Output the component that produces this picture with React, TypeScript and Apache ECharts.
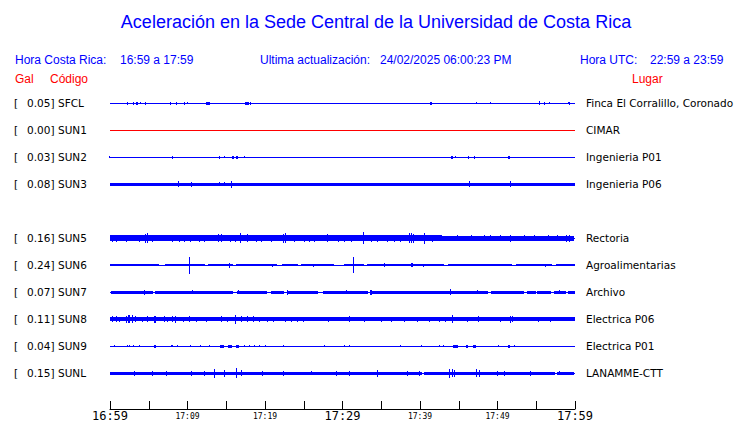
import React, { useEffect, useRef } from "react";
import * as echarts from "echarts";

// ---------- DATA ----------
const stationCodes = ["SFCL", "SUN1", "SUN2", "SUN3", "", "SUN5", "SUN6", "SUN7", "SUN8", "SUN9", "SUNL"];
const peakGal = ["0.05", "0.00", "0.03", "0.08", "", "0.16", "0.24", "0.07", "0.11", "0.04", "0.15"];
const places = [
  "Finca El Corralillo, Coronado", "CIMAR", "Ingenieria P01", "Ingenieria P06", "",
  "Rectoria", "Agroalimentarias", "Archivo", "Electrica P06", "Electrica P01", "LANAMME-CTT",
];
const traceColors = ["#0000ff", "#ff0000", "#0000ff", "#0000ff", "", "#0000ff", "#0000ff", "#0000ff", "#0000ff", "#0000ff", "#0000ff"];

// minutes since 16:59 at which the time labels sit
const timeLabelMinutes = [0, 10, 20, 30, 40, 50, 60];
const timeLabels = ["16:59", "17:09", "17:19", "17:29", "17:39", "17:49", "17:59"];
const bigTimeLabels = ["16:59", "17:29", "17:59"];

const titleText = "Aceleración en la Sede Central de la Universidad de Costa Rica";
const headerTexts = ["Hora Costa Rica:", "16:59 a 17:59", "Ultima actualización:", "24/02/2025 06:00:23 PM", "Hora UTC:", "22:59 a 23:59"];
const columnTexts = ["Gal", "Código", "Lugar"];

// amplitude units: 27 units = spacing between two traces
const ROW_SPAN = 27;

// continuous band of each trace: [startMin, endMin, halfAmplitude]
const bandSFCL: number[][] = [];
const bandSUN1: number[][] = [];
const bandSUN2: number[][] = [];
const bandSUN3 = [[0, 60, 1.6]];
const bandSUN5 = [[0, 42.8, 2.9], [42.8, 60, 2.3]];
const bandSUN6 = [[0.1, 6.45, 1.0], [7.1, 12.26, 1.0], [12.7, 15.9, 1.0], [16.3, 21.6, 1.0], [22.3, 24.3, 1.0], [24.7, 29.0, 1.0], [30.3, 32.9, 1.0], [33.25, 43.2, 1.0], [43.7, 52.0, 1.0], [52.5, 57.2, 1.0], [57.6, 60, 1.0]];
const bandSUN7 = [[0.2, 5.6, 1.3], [5.9, 15.9, 1.3], [16.5, 20.4, 1.3], [20.9, 22.6, 1.3], [22.9, 26.9, 1.3], [27.5, 33.3, 1.3], [33.6, 48.8, 1.3], [49.2, 53.5, 1.3], [53.9, 55.0, 1.3], [55.2, 57.0, 1.3], [57.4, 58.9, 1.3], [59.1, 60, 1.3]];
const bandSUN8 = [[0, 25.2, 2.1], [25.2, 60, 1.8]];
const bandSUN9: number[][] = [];
const bandSUNL = [[0, 40.2, 1.7], [40.6, 57.5, 1.7], [57.8, 60, 1.7]];

// bursts of each trace: [minute, halfAmplitude, durationMin?]
const burstSFCL = [[2.28, 1.4], [3.1, 1.4], [3.53, 1.5, 0.3], [3.96, 1.0], [4.6, 1.4], [7.87, 1.4], [8.65, 1.4], [9.68, 1.4], [10.11, 1.2], [12.73, 1.5, 0.5], [17.68, 1.5, 0.5], [18.15, 1.3], [41.51, 1.5, 0.25], [47.4, 1.2], [49.2, 0.9], [55.48, 2.2], [56.13, 1.3], [56.82, 1.2], [59.18, 1.0], [59.4, 1.3]];
const burstSUN1: number[][] = [];
const burstSUN2 = [[0.05, 1.2], [8.17, 1.3], [14.24, 1.3], [14.88, 0.8], [15.87, 1.5, 0.2], [16.39, 1.5, 0.2], [17.38, 1.2], [44.17, 1.4, 0.3], [44.6, 1.2], [46.37, 1.3], [47.14, 1.3], [51.57, 1.5, 0.2]];
const burstSUN3 = [[8.9, 3.0], [10.6, 2.4], [14.24, 2.0], [14.88, 2.0], [15.8, 3.5], [46.4, 3.0], [51.7, 3.0]];
const burstSUN5 = [[0.4, 3.4], [0.9, 3.5], [2.15, 3.3], [3.87, 3.4], [4.6, 4.6], [4.85, 5.0], [5.6, 3.6], [8.17, 3.6], [9.0, 3.3], [9.7, 3.4], [10.5, 3.3], [11.6, 3.6], [12.3, 3.5], [14.0, 4.0], [14.4, 4.2], [15.6, 3.3], [16.3, 3.5], [16.86, 5.0], [17.85, 3.8], [18.9, 3.4], [19.6, 3.3], [20.9, 3.4], [22.4, 4.5], [22.7, 5.0], [23.9, 3.3], [25.2, 3.4], [25.8, 3.3], [26.5, 3.3], [28.1, 4.0], [29.5, 3.4], [30.3, 3.3], [31.2, 3.6], [32.8, 5.8], [33.8, 3.4], [34.6, 3.3], [35.9, 3.4], [36.8, 3.3], [37.6, 3.6], [38.7, 5.2], [39.0, 5.0], [39.2, 4.5], [40.7, 5.5], [41.7, 3.6], [44.9, 3.2], [46.7, 2.9], [48.4, 2.9], [49.2, 2.8], [50.5, 2.9], [51.8, 3.6], [53.5, 2.8], [54.8, 3.0], [56.6, 2.8], [57.8, 2.8], [59.0, 3.6], [59.4, 3.4]];
const burstSUN6 = [[10.37, 8.3], [15.5, 2.5], [21.0, 1.5], [26.3, 1.6], [31.5, 7.8], [35.5, 2.2], [39.1, 1.8, 0.3], [40.5, 1.6], [56.3, 1.6]];
const burstSUN7 = [[4.5, 2.3], [10.75, 2.2], [16.6, 2.0], [22.9, 2.3], [30.6, 2.2], [33.8, 2.6, 0.3], [43.96, 3.0], [47.5, 2.2], [58.0, 1.8]];
const burstSUN8 = [[0.4, 2.8], [0.9, 3.0], [1.3, 2.7], [2.2, 3.5], [2.6, 4.0, 0.3], [3.0, 3.8], [3.3, 3.2], [4.3, 2.7], [4.9, 2.8], [5.9, 3.3, 0.3], [7.1, 2.8], [7.5, 2.7], [8.1, 3.2], [8.5, 3.3], [9.6, 2.7], [10.3, 2.8], [11.2, 2.6], [12.5, 2.5], [14.4, 3.0], [15.2, 2.6], [16.3, 4.5], [17.0, 3.0], [17.8, 2.8], [18.6, 3.0], [19.3, 2.7], [20.4, 2.5], [21.2, 2.6], [22.7, 2.5], [23.5, 2.6], [24.3, 2.6], [25.0, 2.5], [28.2, 2.5], [31.0, 3.0], [32.9, 2.7], [35.1, 2.4], [36.4, 2.4], [38.1, 2.3], [39.8, 2.3], [41.3, 2.3], [42.6, 2.6], [43.4, 2.7], [44.2, 4.2], [46.2, 2.7], [47.6, 3.0], [50.5, 2.3], [51.7, 3.6], [52.0, 3.0], [55.3, 2.6], [56.9, 2.4]];
const burstSUN9 = [[0.65, 1.0], [2.3, 1.0], [2.6, 1.0], [3.15, 1.0], [3.9, 1.2], [5.85, 1.5, 0.3], [8.1, 1.2, 0.25], [8.8, 1.0], [10.5, 1.2], [11.8, 1.0], [12.9, 1.0], [14.5, 1.3, 0.5], [15.6, 1.5, 0.5], [16.55, 1.3, 0.4], [17.4, 1.2], [18.0, 1.0], [18.7, 1.2], [19.35, 1.0], [20.1, 1.0], [22.4, 1.0], [27.7, 1.0], [30.3, 1.0], [31.0, 1.2], [37.6, 1.0], [40.2, 0.9], [42.6, 1.0], [43.1, 1.0], [44.6, 1.5, 0.6], [46.2, 1.3, 0.3], [47.15, 1.3, 0.4], [50.2, 1.0], [51.6, 1.5, 0.3], [52.2, 1.2]];
const burstSUNL = [[3.2, 2.5], [5.5, 2.3], [7.3, 2.5], [10.6, 2.3], [12.2, 2.3], [13.5, 4.5], [14.8, 3.5], [16.4, 5.0], [17.0, 3.2], [19.8, 2.3], [22.4, 2.3], [26.0, 2.2], [29.3, 2.5], [31.0, 2.5], [34.6, 3.3], [38.5, 2.4], [40.0, 2.3], [43.9, 4.5], [44.2, 3.8], [44.5, 3.5], [47.3, 4.0], [47.7, 3.5], [50.1, 2.4], [51.0, 2.4], [54.3, 2.4], [58.1, 2.2]];

const bands = [bandSFCL, bandSUN1, bandSUN2, bandSUN3, [], bandSUN5, bandSUN6, bandSUN7, bandSUN8, bandSUN9, bandSUNL];
const bursts = [burstSFCL, burstSUN1, burstSUN2, burstSUN3, [], burstSUN5, burstSUN6, burstSUN7, burstSUN8, burstSUN9, burstSUNL];

const DEFAULT_BURST = 0.12;

function buildTraceData() {
  const out: number[][] = [];
  stationCodes.forEach((code, row) => {
    if (!code) return;
    out.push([0, 60, row, 0]);
    bands[row].forEach((s) => out.push([s[0], s[1], row, s[2]]));
    bursts[row].forEach((b) => {
      const d = b[2] ?? DEFAULT_BURST;
      out.push([b[0] - d / 2, b[0] + d / 2, row, b[1]]);
    });
  });
  return out;
}

export default function App() {
  const ref = useRef<HTMLDivElement>(null);
  useEffect(() => {
    if (!ref.current) return;
    const chart = echarts.init(ref.current, null, { renderer: "svg" });
    const blue = "#0000ff";
    const red = "#ff0000";
    const sans = "Liberation Sans";
    const dv = "DejaVu Sans";
    const mono = "DejaVu Sans Mono";

    const headerX = [15, 120, 260, 380, 580, 650];
    const columnX = [15, 50, 632];

    const option: any = {
      animation: false,
      backgroundColor: "#ffffff",
      grid: { left: 110, right: 165, top: 76.5, bottom: 14, containLabel: false },
      xAxis: {
        type: "value",
        position: "bottom",
        min: 0,
        max: 60,
        interval: 5,
        splitLine: { show: false },
        axisLine: { show: true, onZero: false, lineStyle: { color: "#000", width: 1 } },
        axisTick: { show: true, inside: true, length: 8, lineStyle: { color: "#000", width: 1 } },
        axisLabel: {
          margin: 1,
          showMinLabel: true,
          showMaxLabel: true,
          formatter: (v: number) => {
            const i = timeLabelMinutes.indexOf(Math.round(v));
            if (i < 0 || Math.abs(v - Math.round(v)) > 1e-6) return "";
            const t = timeLabels[i];
            return bigTimeLabels.includes(t) ? `{big|${t}}` : `{small|${t}}`;
          },
          rich: {
            big: { fontFamily: mono, fontSize: 12, color: "#000", lineHeight: 12 },
            small: { fontFamily: mono, fontSize: 8, color: "#000", lineHeight: 12 },
          },
        },
      },
      yAxis: [
        {
          type: "value",
          min: -1,
          max: 11.315,
          interval: 1,
          inverse: true,
          splitLine: { show: false },
          axisLine: { show: false },
          axisTick: { show: false },
          axisLabel: {
            align: "left",
            margin: 96,
            showMaxLabel: false,
            formatter: (v: number) => {
              if (Math.abs(v - Math.round(v)) > 1e-6) return "";
              const i = Math.round(v);
              if (i < 0 || i >= stationCodes.length || !stationCodes[i]) return "";
              return `{a|[}{v|${peakGal[i]}]}{c|${stationCodes[i]}}`;
            },
            rich: {
              a: { fontFamily: dv, fontSize: 10.5, color: "#000", width: 13 },
              v: { fontFamily: dv, fontSize: 10.5, color: "#000", width: 31 },
              c: { fontFamily: dv, fontSize: 10.5, color: "#000" },
            },
          },
        },
        {
          type: "value",
          position: "right",
          min: -1,
          max: 11.315,
          interval: 1,
          inverse: true,
          splitLine: { show: false },
          axisLine: { show: false },
          axisTick: { show: false },
          axisLabel: {
            align: "left",
            margin: 11,
            showMaxLabel: false,
            fontFamily: dv,
            fontSize: 10.5,
            color: "#000",
            formatter: (v: number) => {
              if (Math.abs(v - Math.round(v)) > 1e-6) return "";
              const i = Math.round(v);
              if (i < 0 || i >= places.length) return "";
              return places[i];
            },
          },
        },
      ],
      series: [
        {
          type: "custom",
          xAxisIndex: 0,
          yAxisIndex: 0,
          clip: false,
          data: buildTraceData(),
          renderItem: (_p: any, api: any) => {
            const x0 = api.value(0);
            const x1 = api.value(1);
            const row = api.value(2);
            const amp = api.value(3);
            const a = api.coord([x0, row]);
            const b = api.coord([x1, row]);
            const h = Math.abs(api.size([0, amp / ROW_SPAN])[1]);
            const hh = Math.max(1, Math.round(2 * h));
            const x = Math.floor(a[0]);
            const w = Math.max(1, Math.round(b[0] - a[0]));
            const y = Math.round(a[1] - hh / 2);
            return {
              type: "rect",
              shape: { x, y, width: w, height: hh },
              style: { fill: traceColors[row] },
            };
          },
        },
      ],
      graphic: [
        {
          type: "text",
          x: 376,
          y: 22,
          style: { text: titleText, fontFamily: sans, fontSize: 18, fill: blue, align: "center", verticalAlign: "middle" },
        },
        ...headerTexts.map((t, i) => ({
          type: "text",
          x: headerX[i],
          y: 60,
          style: { text: t, fontFamily: sans, fontSize: 12, fill: blue, align: "left", verticalAlign: "middle" },
        })),
        ...columnTexts.map((t, i) => ({
          type: "text",
          x: columnX[i],
          y: 79,
          style: { text: t, fontFamily: sans, fontSize: 12, fill: red, align: "left", verticalAlign: "middle" },
        })),
      ],
    };
    chart.setOption(option);
    return () => chart.dispose();
  }, []);
  return (
    <div
      ref={ref}
      style={{ position: "fixed", left: 0, top: 0, width: 740, height: 423, background: "#fff" }}
    />
  );
}
